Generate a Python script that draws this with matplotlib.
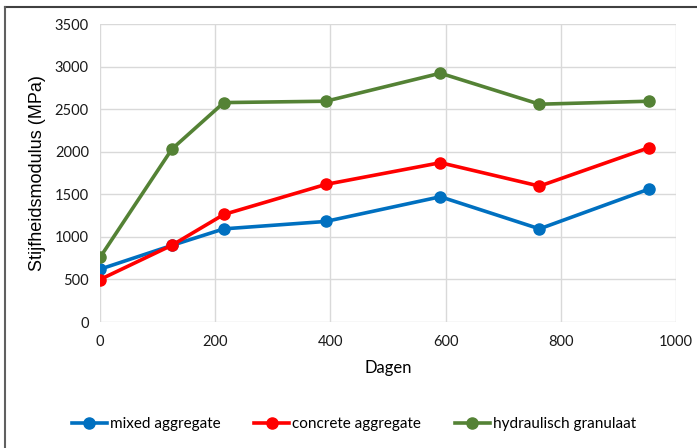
import matplotlib
matplotlib.use("Agg")
import matplotlib.pyplot as plt
from matplotlib.lines import Line2D

days = [0, 125, 215, 392, 591, 763, 953]
mixed = [620, 900, 1094, 1181, 1471, 1094, 1561]
concrete = [499, 902, 1263, 1616, 1871, 1596, 2047]
hydraulisch = [758, 2032, 2577, 2593, 2922, 2558, 2593]
series_names = ["mixed aggregate", "concrete aggregate", "hydraulisch granulaat"]
colors = ["#0070C0", "#FF0000", "#548235"]
xticks = [0, 200, 400, 600, 800, 1000]
yticks = [0, 500, 1000, 1500, 2000, 2500, 3000, 3500]

W, H = 697, 448
fig = plt.figure(figsize=(W / 100, H / 100), dpi=100)
ax = fig.add_axes([100 / W, 1 - 322 / H, 576 / W, 298 / H])

for vals, c, name in zip([mixed, concrete, hydraulisch], colors, series_names):
    ax.plot(days, vals, color=c, lw=2.6, marker="o", ms=8, label=name, zorder=3)

ax.set_xlim(0, 1000)
ax.set_ylim(0, 3500)
ax.set_xticks(xticks)
ax.set_yticks(yticks)
ax.grid(True, color="#D9D9D9", lw=1)
for s in ax.spines.values():
    s.set_visible(False)
ax.tick_params(length=0, labelsize=10.5, colors="#1a1a1a")
ax.tick_params(axis="x", pad=9)
ax.tick_params(axis="y", pad=8)
for lbl in ax.get_xticklabels() + ax.get_yticklabels():
    lbl.set_family("Lato")
ax.set_xlabel("Dagen", fontsize=12, family="Lato", labelpad=8)
ax.set_ylabel("Stijfheidsmodulus (MPa)", fontsize=13, family="Liberation Sans", labelpad=6)

handles = [Line2D([0], [0], color=c, lw=2.6, marker="o", ms=8) for c in colors]
fig.legend(handles, series_names, loc="center", bbox_to_anchor=(354 / W, 1 - 424 / H),
           ncol=3, frameon=False, prop={"family": "Lato", "size": 11},
           handlelength=2.3, handletextpad=0.2, columnspacing=2.2)

# figure frame lines (top and left)
fig.add_artist(Line2D([5 / W, 1], [1 - 7 / H, 1 - 7 / H], color="#404040", lw=1.5, transform=fig.transFigure))
fig.add_artist(Line2D([5 / W, 5 / W], [0, 1 - 7 / H], color="#606060", lw=1.5, transform=fig.transFigure))

fig.savefig("out.png", dpi=100)
